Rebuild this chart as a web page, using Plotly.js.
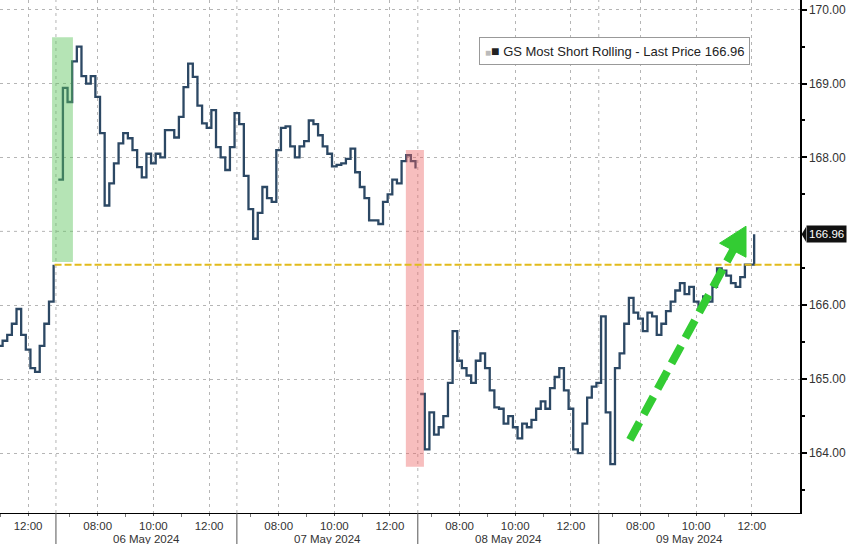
<!DOCTYPE html>
<html><head><meta charset="utf-8">
<script src="https://cdn.plot.ly/plotly-3.0.1.min.js"></script>
<style>html,body{margin:0;padding:0;background:#fff}#chart{width:848px;height:544px}</style>
</head><body><div id="chart"></div>
<script>
// ---- data (10-minute bars, session 06:30-13:00) ----
const dayLabels = ['03 May 2024', '06 May 2024', '07 May 2024', '08 May 2024', '09 May 2024'];
const firstBar = [26, 0, 0, 0, 0];           // index of first bar shown per day
const gapBefore = [false, true, false, true, false];
const prices03May = [165.45, 165.52, 165.6, 165.75, 165.95, 165.6, 165.4, 165.15, 165.1, 165.45, 165.75, 166.05, 166.55];
const prices06May = [167.7, 168.94, 168.75, 169.3, 169.5, 169.1, 169.0, 169.1, 168.82, 168.33, 167.35, 167.65, 167.92, 168.19, 168.33, 168.26, 168.1, 167.87, 167.73, 168.05, 167.92, 168.05, 168.0, 168.37, 168.37, 168.27, 168.55, 168.95, 169.27, 169.09, 168.7, 168.46, 168.4, 168.64, 168.14, 168.0, 167.83, 168.14, 168.6];
const prices07May = [168.45, 167.75, 167.3, 166.9, 167.25, 167.6, 167.45, 167.4, 168.1, 168.4, 168.42, 168.15, 168.0, 168.15, 168.22, 168.5, 168.45, 168.3, 168.15, 168.05, 167.88, 167.9, 167.92, 167.98, 168.12, 167.8, 167.6, 167.45, 167.15, 167.15, 167.1, 167.4, 167.5, 167.7, 167.65, 167.95, 168.03, 167.95, 167.85];
const prices08May = [164.8, 164.05, 164.55, 164.25, 164.35, 164.5, 164.95, 165.65, 165.25, 165.15, 165.05, 164.95, 165.25, 165.35, 165.15, 164.85, 164.62, 164.6, 164.4, 164.5, 164.35, 164.2, 164.4, 164.35, 164.45, 164.6, 164.7, 164.6, 164.88, 165.03, 165.15, 164.85, 164.6, 164.05, 164.0, 164.4, 164.75, 164.9, 164.95];
const prices09May = [165.85, 164.55, 163.85, 165.15, 165.35, 165.75, 166.1, 165.9, 165.82, 165.65, 165.9, 165.85, 165.6, 165.75, 165.92, 166.05, 166.2, 166.3, 166.15, 166.25, 166.05, 165.98, 166.12, 166.05, 166.25, 166.5, 166.47, 166.4, 166.3, 166.25, 166.38, 166.55, 166.55, 166.96];
const tickHours = [8, 10, 12];
const tickLabels = ['08:00', '10:00', '12:00'];
const lastPrice = 166.96;
const refLevel = 166.55;
const seriesName = 'GS Most Short Rolling - Last Price';

// ---- build trading-time axis ----
const SESSION_OPEN = 6.5, SESSION_LEN = 6.5;
const sessionX = (d, hour) => d * SESSION_LEN + (hour - SESSION_OPEN);
const allDays = [prices03May, prices06May, prices07May, prices08May, prices09May];
const xs = [], ys = [];
allDays.forEach((arr, d) => {
  if (gapBefore[d]) { xs.push(null); ys.push(null); }
  arr.forEach((v, j) => {
    const bar = firstBar[d] + j;
    xs.push(sessionX(d, SESSION_OPEN + (bar + 0.5) / 6));
    ys.push(v);
  });
});
const tv = [], tt = [], minorTv = [];
dayLabels.forEach((_, d) => {
  tickHours.forEach((h, k) => { tv.push(sessionX(d, h)); tt.push(tickLabels[k]); });
  [7, 9, 11].forEach(h => minorTv.push(sessionX(d, h)));
});

const FONT = 'Liberation Sans, Arial, sans-serif';
const shapes = [];
const annotations = [];
const dotted = {color: '#b5b5b5', width: 1, dash: '3px,4px'};
// day separators
for (let d = 1; d < dayLabels.length; d++) {
  const xs0 = sessionX(d, SESSION_OPEN);
  shapes.push({type: 'line', xref: 'x', yref: 'paper', x0: xs0, x1: xs0, y0: 0, y1: 1, line: dotted, layer: 'below'});
  shapes.push({type: 'line', xref: 'x', yref: 'paper', x0: xs0, x1: xs0, y0: 0, y1: -0.065, line: {color: '#555', width: 1}});
  annotations.push({xref: 'x', yref: 'paper', x: sessionX(d, SESSION_OPEN + SESSION_LEN / 2), y: -0.0505,
    yanchor: 'middle', text: dayLabels[d], showarrow: false, font: {size: 11.5, color: '#333', family: FONT}});
}
// 167 gridline (label replaced by last-price tag)
shapes.push({type: 'line', xref: 'paper', yref: 'y', x0: 0, x1: 1, y0: 167, y1: 167, line: dotted, layer: 'below'});
// highlight boxes
shapes.push({type: 'rect', xref: 'x', yref: 'y', x0: 6.36, x1: 7.11, y0: 166.585, y1: 169.626,
  fillcolor: 'rgba(90,195,90,0.45)', line: {width: 0}});
shapes.push({type: 'rect', xref: 'x', yref: 'y', x0: 19.07, x1: 19.72, y0: 163.815, y1: 168.10,
  fillcolor: 'rgba(235,100,100,0.42)', line: {width: 0}});
// reference level
shapes.push({type: 'line', xref: 'x', yref: 'y', x0: 6.45, x1: 33.3, y0: refLevel, y1: refLevel,
  line: {color: '#e2bb1c', width: 2, dash: '7px,3px'}});
// green dashed arrow
shapes.push({type: 'line', xref: 'x', yref: 'y', x0: 27.12, y0: 164.18, x1: 30.89, y1: 166.79,
  line: {color: '#33cc33', width: 8, dash: '20px,9px'}});
shapes.push({type: 'path', xref: 'x', yref: 'y', path: 'M 31.29,167.07 L 31.29,166.65 L 30.34,166.84 Z',
  fillcolor: '#33cc33', line: {color: '#33cc33', width: 1}});
// last price tag pointer
shapes.push({type: 'path', xref: 'paper', yref: 'y', path: 'M 1.002,166.96 L 1.0075,167.06 L 1.0075,166.86 Z',
  fillcolor: '#111', line: {width: 0}});
annotations.push({xref: 'paper', yref: 'y', x: 1, xshift: 6, xanchor: 'left', y: lastPrice, yanchor: 'middle',
  text: lastPrice.toFixed(2), showarrow: false, bgcolor: '#111', borderpad: 2,
  font: {size: 11.5, color: '#fff', family: FONT}});
// legend box
annotations.push({xref: 'paper', yref: 'paper', x: 0.599, xanchor: 'left', y: 0.9006, yanchor: 'middle',
  text: "<span style='color:#bbb;font-size:10px'>■</span><span style='font-size:14px'>■</span> " + seriesName + ' ' + lastPrice.toFixed(2),
  showarrow: false, bgcolor: '#fff', bordercolor: '#999', borderwidth: 1, borderpad: 5,
  font: {size: 13, color: '#222', family: FONT}});

const trace = {x: xs, y: ys, type: 'scatter', mode: 'lines', connectgaps: false,
  line: {color: '#2c4864', width: 2.3, shape: 'hv'}, hoverinfo: 'y'};

const layout = {
  width: 848, height: 544, margin: {l: 0, r: 48, t: 0, b: 31},
  paper_bgcolor: '#fff', plot_bgcolor: '#fff', showlegend: false,
  font: {family: FONT, size: 11, color: '#333'},
  xaxis: {type: 'linear', range: [4.49, 33.23], tickmode: 'array', tickvals: tv, ticktext: tt,
    showgrid: true, gridcolor: '#b5b5b5', griddash: '3px,4px', gridwidth: 1, zeroline: false,
    showline: true, linecolor: '#000', linewidth: 1, ticks: 'outside', ticklen: 2, tickcolor: '#555',
    minor: {tickmode: 'array', tickvals: minorTv, ticks: 'outside', ticklen: 3, tickcolor: '#777', showgrid: false},
    tickfont: {size: 11.5, color: '#333'}, fixedrange: true},
  yaxis: {side: 'right', range: [163.19, 170.13], tickmode: 'array', tickvals: [164, 165, 166, 168, 169, 170],
    tickformat: '.2f', showgrid: true, gridcolor: '#b5b5b5', griddash: '3px,4px', zeroline: false,
    showline: true, linecolor: '#000', linewidth: 1.5, ticks: 'outside', ticklen: 5, tickwidth: 2, tickcolor: '#000',
    minor: {tickmode: 'array', tickvals: [163.5, 164.5, 165.5, 166.5, 167.5, 168.5, 169.5], ticks: 'outside', ticklen: 3, tickcolor: '#000', showgrid: false},
    tickfont: {size: 12, color: '#333'}, fixedrange: true},
  shapes: shapes, annotations: annotations
};
Plotly.newPlot('chart', [trace], layout, {displayModeBar: false, staticPlot: true});
</script></body></html>
